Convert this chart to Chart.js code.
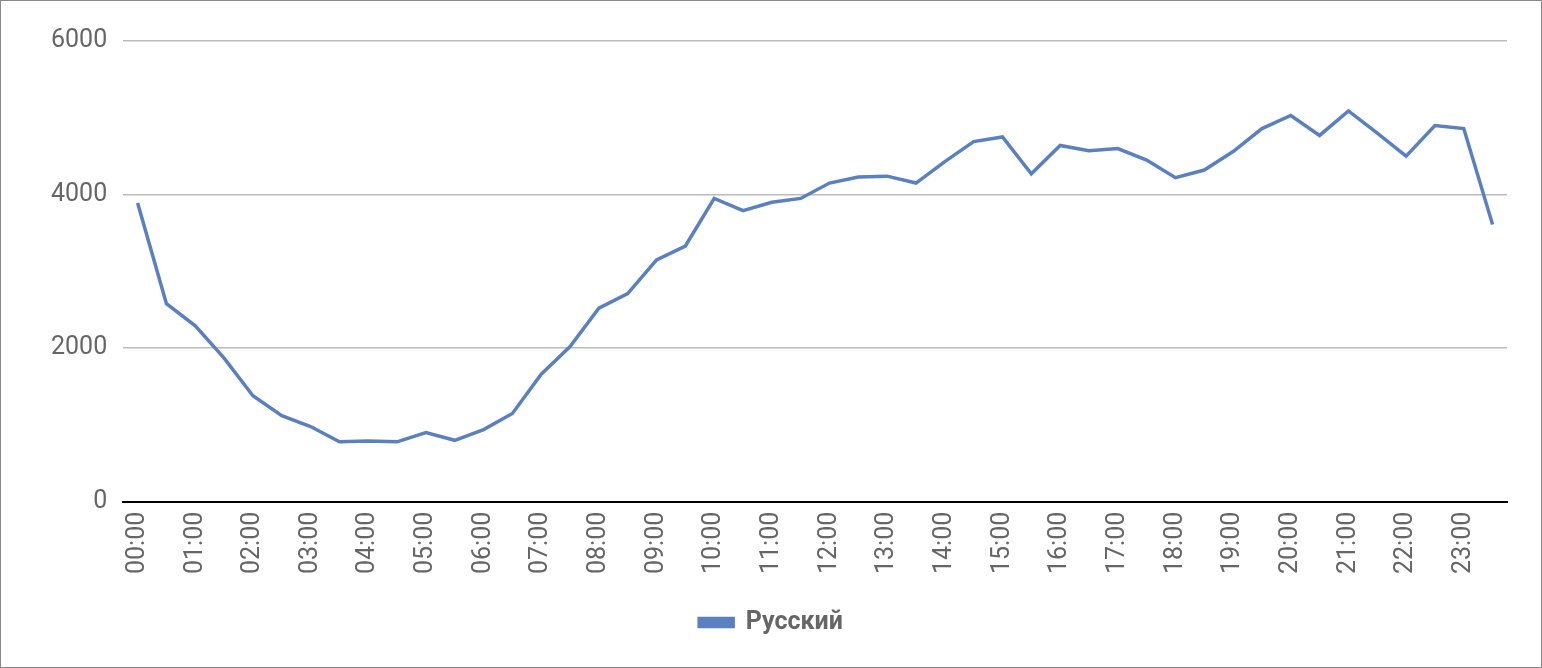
<!DOCTYPE html>
<html><head><meta charset="utf-8">
<script src="https://cdn.jsdelivr.net/npm/chart.js@4"></script>
<style>html,body{margin:0;padding:0;background:#fff}#w{position:absolute;left:0;top:0;width:1540px;height:666px;border:1px solid #888}</style>
</head><body><div id="w"><canvas id="c"></canvas></div>
<script>
const labels=[];for(let h=0;h<24;h++){const hh=String(h).padStart(2,'0');labels.push(hh+':00',hh+':30');}
const seriesName='Русский';
const values=[3890,2580,2290,1870,1380,1120,980,780,790,780,900,800,940,1150,1660,2020,2520,2710,3150,3330,3950,3790,3900,3950,4150,4230,4240,4150,4430,4690,4750,4270,4640,4570,4600,4450,4220,4320,4560,4860,5030,4770,5090,4800,4500,4900,4860,3610];
const yTicks=[0,2000,4000,6000];
new Chart(document.getElementById('c'),{type:'line',
data:{labels,datasets:[{label:seriesName,data:values,borderColor:'#5b80c0',backgroundColor:'#5b80c0',borderWidth:3.5,pointRadius:0,tension:0}]},
options:{responsive:true,maintainAspectRatio:false,animation:false,
layout:{padding:{top:40,right:34,left:34,bottom:22}},
plugins:{legend:{position:'bottom',labels:{color:'#666',font:{family:'Roboto',size:25,weight:'bold'},boxWidth:34,boxHeight:8,padding:26}},tooltip:{enabled:false}},
scales:{x:{offset:true,grid:{display:false,drawTicks:false},border:{color:'#000',width:2},
ticks:{autoSkip:false,maxRotation:90,minRotation:90,color:'#666',padding:10,font:{family:'Roboto',size:25},callback:(v,i)=>i%2===0?labels[i]:''}},
y:{min:0,max:6000,afterBuildTicks:a=>{a.ticks=yTicks.map(v=>({value:v}));},border:{display:false},grid:{color:'#bbb',lineWidth:1.5,drawTicks:false},
ticks:{color:'#666',padding:16,font:{family:'Roboto',size:25},callback:v=>String(v)}}}}});
</script></body></html>
